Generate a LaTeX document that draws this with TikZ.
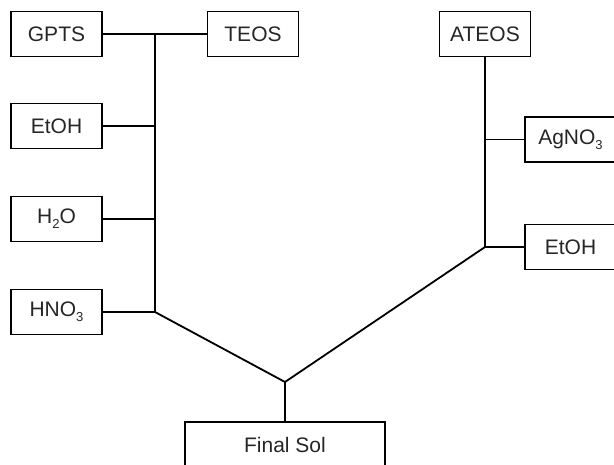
\documentclass[tikz,border=0pt]{standalone}
\usepackage{fontspec}
\setmainfont{Liberation Sans}
\newcommand{\lowsub}[1]{\raisebox{-0.45ex}{\fontsize{13pt}{14pt}\selectfont #1}}
\begin{document}
\begin{tikzpicture}[x=1pt,y=-1pt,
  box/.style={draw,line width=1.8pt,minimum width=91pt,minimum height=45pt,inner sep=0pt,font=\fontsize{21pt}{24pt}\selectfont,text=black!85},
  conn/.style={line width=1.8pt}]
\useasboundingbox (0,0) rectangle (614,465);
\node[box] (gpts) at (56.5,34) {GPTS};
\node[box] (teos) at (253,34) {TEOS};
\node[box] (ateos) at (485,34) {ATEOS};
\node[box] (etohl) at (56.5,126) {EtOH};
\node[box] (h2o) at (56.5,219) {H\lowsub{2}O};
\node[box] (hno3) at (56.5,312) {HNO\lowsub{3}};
\node[box] (agno3) at (570.5,139.5) {AgNO\lowsub{3}};
\node[box] (etohr) at (570.5,247) {EtOH};
\node[box,minimum width=200pt,minimum height=46pt] (final) at (285,445) {Final Sol};
\coordinate (jt) at (155,34);
\coordinate (jb) at (155,312);
\coordinate (jr) at (485,247);
\coordinate (jf) at (285,382);
\draw[conn] (gpts.east) -- (teos.west);
\draw[conn] (jt) -- (jb);
\draw[conn] (etohl.east) -- (etohl.east -| jt);
\draw[conn] (h2o.east) -- (h2o.east -| jt);
\draw[conn] (hno3.east) -- (jb);
\draw[conn] (ateos.south) -- (jr);
\draw[conn] (agno3.west) -- (agno3.west -| jr);
\draw[conn] (etohr.west) -- (jr);
\draw[conn] (jb) -- (jf) -- (jr);
\draw[conn] (jf) -- (final.north);
\end{tikzpicture}
\end{document}
